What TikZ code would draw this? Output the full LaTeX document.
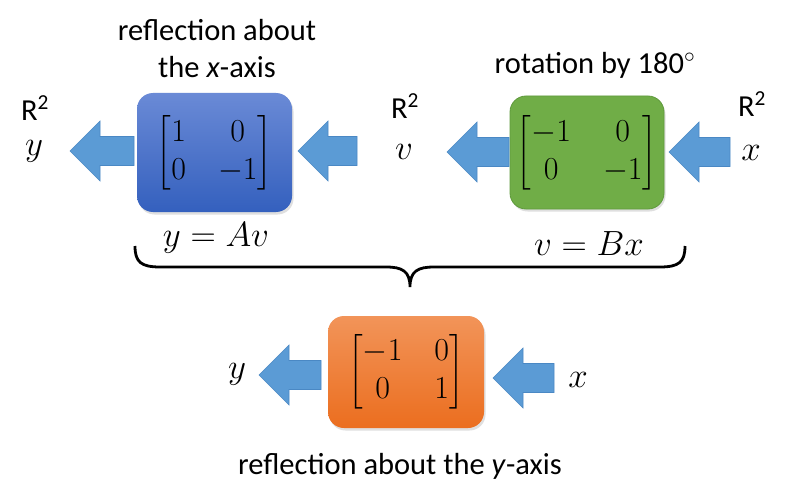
\documentclass[tikz,border=0pt]{standalone}
\usepackage{fix-cm}
\usepackage{amsmath}
\usepackage{fontspec}
\setmainfont{Carlito}
\usetikzlibrary{shadows}
\definecolor{arrowc}{HTML}{5B9BD5}
\definecolor{arrowd}{HTML}{4A88C4}
\definecolor{bluetop}{HTML}{6A8AD6}
\definecolor{bluebot}{HTML}{3460BE}
\definecolor{greenf}{HTML}{70AD47}
\definecolor{greend}{HTML}{5F9A3C}
\definecolor{orgtop}{HTML}{F29459}
\definecolor{orgbot}{HTML}{EB6E1F}
\tikzset{
  mbox/.style={rounded corners=16pt, inner sep=0pt, font=\fontsize{32}{38}\selectfont,
    drop shadow={shadow xshift=1.5pt, shadow yshift=-2.5pt, opacity=0.25}},
  lbl/.style={font=\fontsize{30.5}{36}\selectfont},
  mlbl/.style={font=\fontsize{35}{40}\selectfont},
  blk/.style={fill=arrowc, draw=arrowd, line width=0.6pt},
}
\newcommand\barrow[4]{% name, tip x, end x, center y
  \coordinate (#1) at (#2,#4);
  \path[blk] (#1) -- ++(30,-30) -- ++(0,15.5) -- (#3,#4-14.5) -- (#3,#4+14.5) -- (#2+30,#4+14.5) -- (#2+30,#4+30) -- cycle;}
\newcommand\mymat[4]{{\setlength\arraycolsep{16pt}\begin{bmatrix}#1 & #2\\ #3 & #4\end{bmatrix}}}
\begin{document}
\begin{tikzpicture}[x=1pt,y=-1pt]
\useasboundingbox[fill=white] (0,0) rectangle (798,492);
% boxes
\node[mbox, top color=bluetop, bottom color=bluebot, minimum width=155, minimum height=119] (A) at (214.5,152.5)
  {$\mymat{1}{0}{0}{-1}$};
\node[mbox, fill=greenf, draw=greend, line width=0.8pt, minimum width=154, minimum height=113] (B) at (587,152.5)
  {$\mymat{-1}{0}{0}{-1}$};
\node[mbox, top color=orgtop, bottom color=orgbot, minimum width=156, minimum height=112] (C) at (406,372)
  {$\mymat{-1}{0}{0}{1}$};
% arrows
\barrow{a1}{70}{134}{151}
\barrow{a2}{298}{357}{151}
\barrow{a3}{447}{509}{152}
\barrow{a4}{669}{730}{152}
\barrow{a5}{259}{321}{375}
\barrow{a6}{493}{554}{378}
% labels
\node[lbl] (t1) at (217,30) {reflection about};
\node[lbl] (t2) at (217,67) {the \textit{x}-axis};
\node[lbl] (t3) at (595,65) {rotation by 180$^\circ$};
\node[lbl] (t4) at (400,466) {reflection about the \textit{y}-axis};
\node[lbl] (r1) at (35,108) {R\textsuperscript{2}};
\node[lbl] (r2) at (405,106) {R\textsuperscript{2}};
\node[lbl] (r3) at (752,104) {R\textsuperscript{2}};
\node[mlbl] (y1) at (34,151) {$y$};
\node[mlbl] (v1) at (404,152) {$v$};
\node[mlbl] (x1) at (751,153) {$x$};
\node[mlbl] (y2) at (237,374) {$y$};
\node[mlbl] (x2) at (578,380) {$x$};
\node[mlbl] (e1) at (216,238) {$y = Av$};
\node[mlbl] (e2) at (589,244) {$v = Bx$};
% brace
\draw[line width=2.8pt] (135,246) .. controls (135,262) and (141,267) .. (160,267) -- (386,267)
  .. controls (402,267) and (410,271) .. (410,287) .. controls (410,271) and (418,267) .. (434,267)
  -- (660,267) .. controls (679,267) and (685,262) .. (685,246);
\end{tikzpicture}
\end{document}
